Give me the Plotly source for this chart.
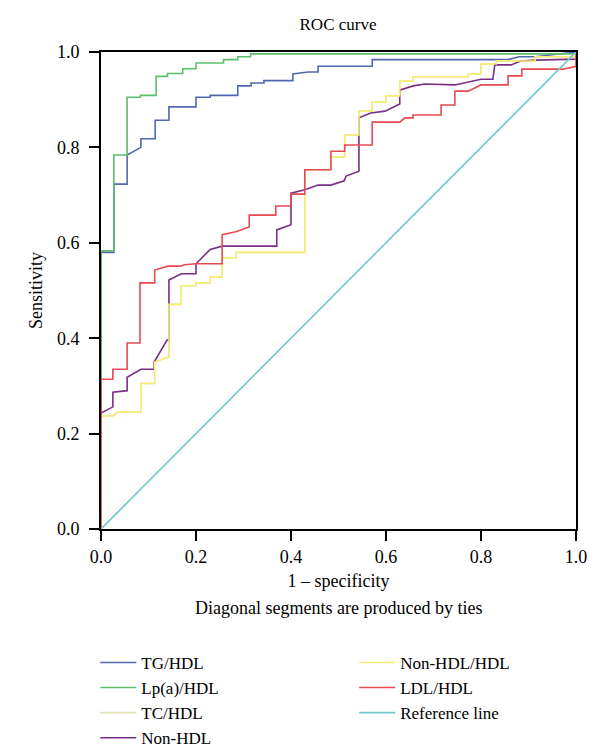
import plotly.graph_objects as go

# ---------------- data (ROC vertices: 1 - specificity, sensitivity) ----------------
tg_hdl_x = [0, 0, 0.027, 0.027, 0.055, 0.055, 0.084, 0.084, 0.114, 0.114, 0.143, 0.143,
            0.2, 0.2, 0.23, 0.23, 0.288, 0.288, 0.316, 0.316, 0.343, 0.343, 0.404, 0.404,
            0.436, 0.457, 0.457, 0.571, 0.571, 0.857, 0.88, 0.914, 1.0]
tg_hdl_y = [0, 0.58, 0.58, 0.723, 0.723, 0.784, 0.80, 0.818, 0.818, 0.857, 0.857, 0.885,
            0.885, 0.905, 0.905, 0.909, 0.909, 0.929, 0.929, 0.935, 0.935, 0.94, 0.94, 0.954,
            0.958, 0.958, 0.97, 0.97, 0.984, 0.984, 0.99, 0.99, 1.0]

lpa_hdl_x = [0, 0, 0.027, 0.027, 0.055, 0.055, 0.083, 0.083, 0.116, 0.116, 0.14, 0.14,
             0.172, 0.172, 0.2, 0.2, 0.258, 0.258, 0.288, 0.288, 0.315, 0.315, 1.0, 1.0]
lpa_hdl_y = [0, 0.583, 0.583, 0.784, 0.784, 0.905, 0.905, 0.909, 0.909, 0.949, 0.949, 0.955,
             0.955, 0.965, 0.965, 0.977, 0.977, 0.984, 0.984, 0.99, 0.99, 0.996, 0.996, 1.0]

nonhdl_hdl_x = [0, 0, 0.025, 0.034, 0.084, 0.084, 0.113, 0.113, 0.141, 0.143, 0.143, 0.169,
                0.169, 0.2, 0.2, 0.23, 0.23, 0.255, 0.255, 0.284, 0.284, 0.429, 0.429, 0.484,
                0.484, 0.513, 0.513, 0.543, 0.543, 0.571, 0.571, 0.6, 0.6, 0.629, 0.629, 0.657,
                0.657, 0.773, 0.773, 0.8, 0.8, 0.832, 0.832, 0.914, 0.914, 1.0, 1.0]
nonhdl_hdl_y = [0, 0.237, 0.237, 0.245, 0.245, 0.305, 0.305, 0.35, 0.36, 0.36, 0.471, 0.471,
                0.51, 0.51, 0.516, 0.516, 0.528, 0.528, 0.568, 0.568, 0.58, 0.58, 0.753, 0.753,
                0.78, 0.78, 0.826, 0.826, 0.876, 0.876, 0.895, 0.895, 0.908, 0.908, 0.939, 0.939,
                0.948, 0.948, 0.954, 0.954, 0.975, 0.975, 0.981, 0.981, 0.99, 0.99, 1.0]

# TC/HDL and Non-HDL/HDL differ by a constant (TC = Non-HDL + HDL), so their ROC curves coincide
tc_hdl_x = nonhdl_hdl_x
tc_hdl_y = nonhdl_hdl_y

nonhdl_x = [0, 0, 0.025, 0.025, 0.055, 0.055, 0.084, 0.112, 0.112, 0.139, 0.143, 0.143,
            0.169, 0.2, 0.2, 0.23, 0.255, 0.37, 0.37, 0.4, 0.4, 0.429, 0.457, 0.484, 0.512,
            0.516, 0.543, 0.543, 0.568, 0.598, 0.629, 0.629, 0.657, 0.682, 0.745, 0.8, 0.825,
            0.829, 0.863, 0.884, 0.914, 1.0, 1.0]
nonhdl_y = [0, 0.243, 0.256, 0.287, 0.29, 0.318, 0.335, 0.335, 0.35, 0.396, 0.396, 0.522,
            0.535, 0.535, 0.556, 0.586, 0.593, 0.593, 0.627, 0.638, 0.704, 0.711, 0.721, 0.721,
            0.73, 0.74, 0.75, 0.862, 0.872, 0.876, 0.891, 0.92, 0.929, 0.933, 0.931, 0.943,
            0.943, 0.973, 0.973, 0.981, 0.983, 0.985, 1.0]

ldl_hdl_x = [0, 0, 0.025, 0.025, 0.055, 0.055, 0.082, 0.082, 0.113, 0.113, 0.141, 0.168,
             0.175, 0.2, 0.255, 0.255, 0.284, 0.312, 0.312, 0.368, 0.368, 0.4, 0.4, 0.429,
             0.429, 0.484, 0.484, 0.513, 0.513, 0.571, 0.571, 0.629, 0.64, 0.657, 0.657, 0.716,
             0.716, 0.745, 0.745, 0.773, 0.8, 0.857, 0.857, 0.886, 0.886, 0.973, 1.0, 1.0]
ldl_hdl_y = [0, 0.314, 0.314, 0.335, 0.335, 0.39, 0.39, 0.516, 0.516, 0.543, 0.551, 0.551,
             0.554, 0.556, 0.556, 0.617, 0.623, 0.633, 0.658, 0.658, 0.677, 0.677, 0.702, 0.702,
             0.753, 0.753, 0.792, 0.792, 0.805, 0.805, 0.853, 0.853, 0.862, 0.862, 0.868, 0.868,
             0.889, 0.889, 0.918, 0.918, 0.931, 0.931, 0.95, 0.95, 0.964, 0.964, 0.97, 1.0]

ref_x = [0, 1]
ref_y = [0, 1]

series = [
    ("TG/HDL", tg_hdl_x, tg_hdl_y, "#5068ae", "legend"),
    ("Lp(a)/HDL", lpa_hdl_x, lpa_hdl_y, "#5cbf6b", "legend"),
    ("TC/HDL", tc_hdl_x, tc_hdl_y, "#e6e3b8", "legend"),
    ("Non-HDL", nonhdl_x, nonhdl_y, "#7b2e88", "legend"),
    ("Non-HDL/HDL", nonhdl_hdl_x, nonhdl_hdl_y, "#f6ed74", "legend2"),
    ("LDL/HDL", ldl_hdl_x, ldl_hdl_y, "#e74a52", "legend2"),
    ("Reference line", ref_x, ref_y, "#6ec8c8", "legend2"),
]

FONT = "Liberation Serif"

fig = go.Figure()
for name, xs, ys, color, lg in series:
    fig.add_trace(go.Scatter(x=xs, y=ys, mode="lines", name=name,
                             line=dict(color=color, width=1.6), legend=lg))

axis_common = dict(
    range=[0, 1], showgrid=False, zeroline=False,
    showline=True, linecolor="black", linewidth=2, mirror=True,
    ticks="outside", ticklen=10, tickwidth=2, tickcolor="black",
    tickvals=[0, 0.2, 0.4, 0.6, 0.8, 1.0], ticktext=["0.0", "0.2", "0.4", "0.6", "0.8", "1.0"],
    tickfont=dict(family=FONT, size=18, color="black"),
)

legend_common = dict(xanchor="left", yanchor="top", bgcolor="rgba(0,0,0,0)",
                     font=dict(family=FONT, size=17, color="black"), tracegroupgap=0,
                     itemwidth=36)

fig.update_layout(
    width=600, height=747,
    margin=dict(l=93, r=32, t=44, b=226, autoexpand=False),
    paper_bgcolor="white", plot_bgcolor="white",
    title=dict(text="ROC curve", x=0.55, xanchor="center", y=1 - 16 / 747, yanchor="middle",
               font=dict(family=FONT, size=17, color="black")),
    xaxis=dict(**axis_common, title=dict(text="1 – specificity", standoff=9,
                                         font=dict(family=FONT, size=18, color="black"))),
    yaxis=dict(**axis_common, ticklabelstandoff=6,
               title=dict(text="Sensitivity", standoff=10,
                          font=dict(family=FONT, size=18, color="black"))),
    legend=dict(x=-0.012, y=-0.243, **legend_common),
    legend2=dict(x=0.533, y=-0.243, **legend_common),
    annotations=[dict(text="Diagonal segments are produced by ties", xref="paper", yref="paper",
                      x=0.5, y=(521 - 600) / 477, xanchor="center", yanchor="middle",
                      showarrow=False, font=dict(family=FONT, size=18, color="black"))],
    showlegend=True,
)

fig.write_html("out.html")
